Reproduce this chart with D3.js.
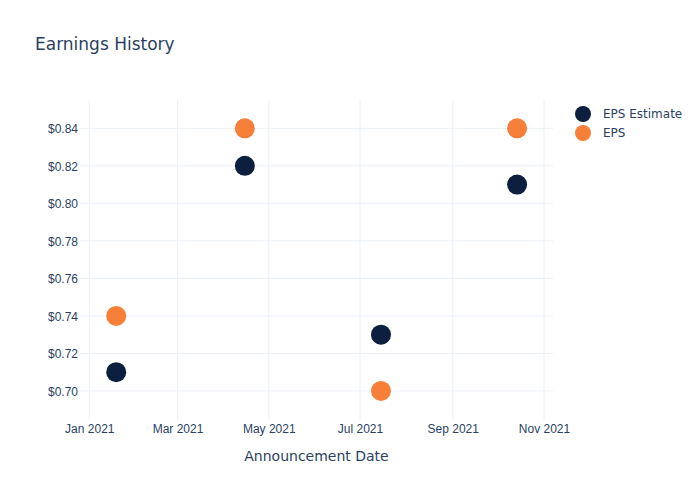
<!DOCTYPE html>
<html>
<head>
<meta charset="utf-8">
<script src="https://cdn.jsdelivr.net/npm/d3@7"></script>
<style>
  html, body { margin: 0; padding: 0; background: #fff; }
  svg { display: block; font-family: "DejaVu Sans", sans-serif; }
</style>
</head>
<body>
<svg id="chart" width="700" height="500"></svg>
<script>
const dates = ["2021-01-19", "2021-04-15", "2021-07-15", "2021-10-14"];
const epsEstimate = [0.71, 0.82, 0.73, 0.81];
const eps = [0.74, 0.84, 0.70, 0.84];
const seriesNames = ["EPS Estimate", "EPS"];
const seriesColors = ["#0c1f3f", "#f6803a"];
const yTicks = [0.70, 0.72, 0.74, 0.76, 0.78, 0.80, 0.82, 0.84];
const xTicks = ["2021-01-01", "2021-03-01", "2021-05-01", "2021-07-01", "2021-09-01", "2021-11-01"];
const xDomain = ["2020-12-25T19:00:00", "2021-11-07T00:00:00"];
const yDomain = [0.6845, 0.8551];

const parse = d3.utcParse("%Y-%m-%d");
const parseT = d3.utcParse("%Y-%m-%dT%H:%M:%S");
const textColor = "#2a3f5f";
const gridColor = "#ebf0f8";

const svg = d3.select("#chart");
const m = { left: 80, right: 553, top: 100, bottom: 420 };

const x = d3.scaleUtc().domain(xDomain.map(parseT)).range([m.left, m.right]);
const y = d3.scaleLinear().domain(yDomain).range([m.bottom, m.top]);

// grid
const g = svg.append("g");
g.selectAll("line.vx").data(xTicks.map(parse)).enter().append("line")
  .attr("x1", d => x(d)).attr("x2", d => x(d))
  .attr("y1", m.top).attr("y2", m.bottom)
  .attr("stroke", gridColor).attr("stroke-width", 1);
g.selectAll("line.hy").data(yTicks).enter().append("line")
  .attr("x1", m.left).attr("x2", m.right)
  .attr("y1", d => y(d)).attr("y2", d => y(d))
  .attr("stroke", gridColor).attr("stroke-width", 1);

// axes via d3 axis
const xAxis = d3.axisBottom(x).tickValues(xTicks.map(parse))
  .tickFormat(d3.utcFormat("%b %Y")).tickSize(0).tickPadding(0);
const xa = svg.append("g").attr("transform", `translate(0,${m.bottom})`).call(xAxis);
xa.select(".domain").remove();
xa.selectAll("text").attr("fill", textColor).attr("font-size", 12)
  .attr("dy", null).attr("y", 13);

const yAxis = d3.axisLeft(y).tickValues(yTicks)
  .tickFormat(d => "$" + d3.format(".2f")(d)).tickSize(0).tickPadding(0);
const ya = svg.append("g").attr("transform", `translate(${m.left - 2},0)`).call(yAxis);
ya.select(".domain").remove();
ya.selectAll("text").attr("fill", textColor).attr("font-size", 12)
  .attr("dy", "0.35em");

// points
const seriesData = [epsEstimate, eps];
seriesData.forEach((vals, si) => {
  svg.append("g").selectAll("circle").data(vals).enter().append("circle")
    .attr("cx", (d, i) => x(parse(dates[i])))
    .attr("cy", d => y(d))
    .attr("r", 10)
    .attr("fill", seriesColors[si]);
});

// title
svg.append("text").attr("x", 35).attr("y", 50)
  .attr("fill", textColor).attr("font-size", 17).text("Earnings History");

// x axis title
svg.append("text").attr("x", (m.left + m.right) / 2).attr("y", 461)
  .attr("text-anchor", "middle").attr("fill", textColor).attr("font-size", 14)
  .text("Announcement Date");

// legend
const lg = svg.append("g");
seriesNames.forEach((n, i) => {
  const ly = 114 + i * 19;
  lg.append("circle").attr("cx", 583).attr("cy", ly).attr("r", 8).attr("fill", seriesColors[i]);
  lg.append("text").attr("x", 603).attr("y", ly).attr("dy", "0.35em")
    .attr("fill", textColor).attr("font-size", 12).text(n);
});
</script>
</body>
</html>
